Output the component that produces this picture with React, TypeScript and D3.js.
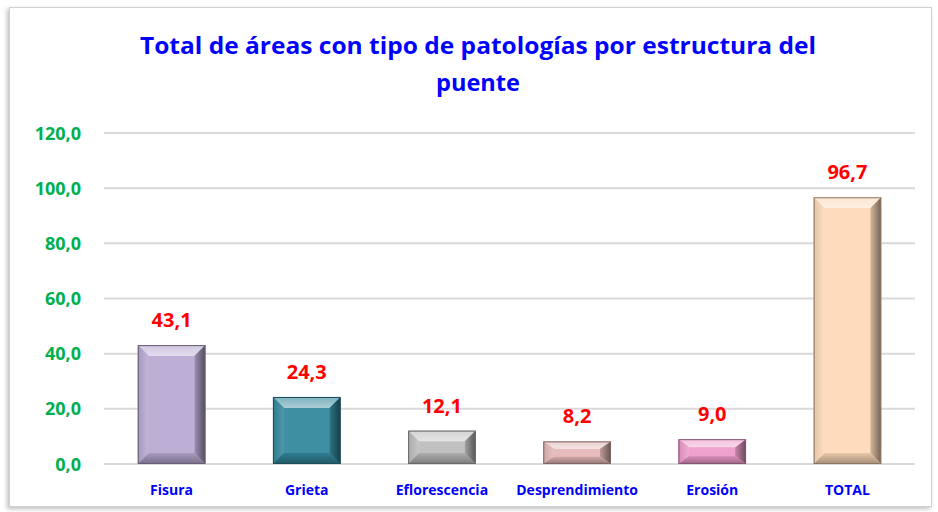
import React from "react";
import * as d3 from "d3";

const categories = ["Fisura", "Grieta", "Eflorescencia", "Desprendimiento", "Erosión", "TOTAL"];
const values = [43.1, 24.3, 12.1, 8.2, 9.0, 96.7];
const colors = ["#B8A9D2", "#33889C", "#BDBDBD", "#E4B8B8", "#EE9CCB", "#FDD9B8"];
const yTicks = [0, 20, 40, 60, 80, 100, 120];

const W = 938, H = 512;
const M = { left: 104, right: 915, top: 133, bottom: 464 };

function mix(c: string, t: string, k: number) {
  return d3.interpolateRgb(c, t)(k);
}

export default function App() {
  const x = d3.scaleBand<string>().domain(categories).range([M.left, M.right]).paddingInner(0.5).paddingOuter(0.25);
  const y = d3.scaleLinear().domain([0, 120]).range([M.bottom, M.top]);
  const fmt = (v: number) => d3.format(".1f")(v).replace(".", ",");
  const font = "'Open Sans', sans-serif";

  return (
    <svg width={W} height={H} style={{ position: "absolute", left: 0, top: 0, display: "block" }}>
      <defs>
        <filter id="sh" x="-5%" y="-5%" width="110%" height="110%">
          <feDropShadow dx="-2" dy="2" stdDeviation="2" floodColor="#000" floodOpacity="0.25" />
        </filter>
        {colors.map((col, i) => (
          <g key={i}>
            <linearGradient id={`top${i}`} x1="0" y1="0" x2="0" y2="1">
              <stop offset="0" stopColor={mix(col, "#fff", 0.35)} />
              <stop offset="1" stopColor={mix(col, "#fff", 0.6)} />
            </linearGradient>
            <linearGradient id={`right${i}`} x1="0" y1="0" x2="1" y2="0">
              <stop offset="0" stopColor={mix(col, "#000", 0.15)} />
              <stop offset="1" stopColor={mix(col, "#000", 0.55)} />
            </linearGradient>
            <linearGradient id={`left${i}`} x1="0" y1="0" x2="1" y2="0">
              <stop offset="0" stopColor={mix(col, "#000", 0.1)} />
              <stop offset="1" stopColor={mix(col, "#fff", 0.15)} />
            </linearGradient>
            <linearGradient id={`bot${i}`} x1="0" y1="0" x2="0" y2="1">
              <stop offset="0" stopColor={mix(col, "#000", 0.08)} />
              <stop offset="1" stopColor={mix(col, "#000", 0.35)} />
            </linearGradient>
          </g>
        ))}
      </defs>
      <rect x={0} y={0} width={W} height={H} fill="#fff" />
      <rect x={9.5} y={7.5} width={922} height={499} fill="#fff" stroke="#d0d0d0" strokeWidth={1} filter="url(#sh)" />
      <text x={478} y={54} textAnchor="middle" fontFamily={font} fontWeight="bold" fontSize={23} fill="#0000FF"
        textLength={676} lengthAdjust="spacingAndGlyphs">
        Total de áreas con tipo de patologías por estructura del
      </text>
      <text x={478} y={91} textAnchor="middle" fontFamily={font} fontWeight="bold" fontSize={23} fill="#0000FF"
        textLength={84} lengthAdjust="spacingAndGlyphs">
        puente
      </text>
      {yTicks.map((t) => (
        <g key={t}>
          <line x1={M.left} x2={M.right} y1={y(t)} y2={y(t)} stroke="#d9d9d9" strokeWidth={2} />
          <text x={81} y={y(t) + 6.5} textAnchor="end" fontFamily={font} fontWeight="bold" fontSize={18} fill="#00B050">
            {fmt(t)}
          </text>
        </g>
      ))}
      {categories.map((c, i) => {
        const v = values[i];
        const x0 = x(c)!;
        const bw = x.bandwidth();
        const y0 = y(v);
        const y1 = y(0);
        const h = y1 - y0;
        const b = Math.min(11, h / 3);
        const bx = Math.min(11, bw / 4);
        const col = colors[i];
        const x1 = x0 + bw;
        const pts = (p: number[][]) => p.map((q) => q.join(",")).join(" ");
        return (
          <g key={c}>
            <rect x={x0} y={y0} width={bw} height={h} fill={col} />
            <polygon points={pts([[x0, y0], [x1, y0], [x1 - bx, y0 + b], [x0 + bx, y0 + b]])} fill={`url(#top${i})`} />
            <polygon points={pts([[x0, y0], [x0 + bx, y0 + b], [x0 + bx, y1 - b], [x0, y1]])} fill={`url(#left${i})`} />
            <polygon points={pts([[x1, y0], [x1, y1], [x1 - bx, y1 - b], [x1 - bx, y0 + b]])} fill={`url(#right${i})`} />
            <polygon points={pts([[x0, y1], [x0 + bx, y1 - b], [x1 - bx, y1 - b], [x1, y1]])} fill={`url(#bot${i})`} />
            <rect x={x0 + bx} y={y0 + b} width={bw - 2 * bx} height={h - 2 * b} fill={mix(col, "#fff", 0.06)} />
            <rect x={x0 + 0.5} y={y0 + 0.5} width={bw - 1} height={h - 1} fill="none" stroke={mix(col, "#000", 0.45)} strokeWidth={1} />
            <text x={x0 + bw / 2} y={y0 - 18} textAnchor="middle" fontFamily={font} fontWeight="bold" fontSize={20} fill="#FF0000">
              {fmt(v)}
            </text>
            <text x={x0 + bw / 2} y={495} textAnchor="middle" fontFamily={font} fontWeight="bold" fontSize={14} fill="#0000FF">
              {c}
            </text>
          </g>
        );
      })}
    </svg>
  );
}
